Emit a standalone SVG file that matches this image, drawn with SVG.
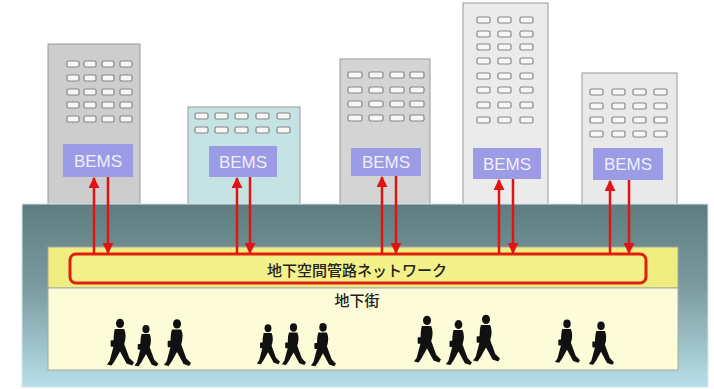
<svg xmlns="http://www.w3.org/2000/svg" xmlns:xlink="http://www.w3.org/1999/xlink" width="714" height="389" viewBox="0 0 714 389">
  <style>
    .bldg { stroke: #9a9a9a; stroke-width: 1; }
    .win { fill: #f7f7f7; stroke: #858585; stroke-width: 1.2; }
    .bems { fill: #9b9be6; }
    .bems-t { font-family: "Liberation Sans", Arial, sans-serif; font-size: 17px; fill: #f0f0fa; text-anchor: middle; }
    .jp { font-family: "Noto Sans CJK JP", "Noto Sans CJK SC", sans-serif; font-size: 15px; fill: #222; text-anchor: middle; font-weight: 500; }
    .link { stroke: #e01414; stroke-width: 2.5; fill: none; }
    .walker { fill: #111; }
  </style>
  <defs>
    <linearGradient id="groundGrad" x1="0" y1="0" x2="0" y2="1">
      <stop offset="0" stop-color="#5f7d80"/>
      <stop offset="0.45" stop-color="#7a9a9e"/>
      <stop offset="1" stop-color="#b8dfe8"/>
    </linearGradient>
    <marker id="tip" viewBox="0 0 10 10" refX="9" refY="5" markerWidth="11" markerHeight="11" orient="auto" markerUnits="userSpaceOnUse">
      <path d="M0,0 L10,5 L0,10 Z" fill="#e01414"/>
    </marker>
    <!-- walking figure, feet at y=50 -->
    <symbol id="walker" viewBox="0 0 30 52" overflow="visible">
      <ellipse cx="15" cy="5" rx="4.3" ry="5"/>
      <path d="M9.5,11 L19.5,11 Q22.5,18 19.5,27 L25,42 L30,47 L28,50 L22,48 L15,35 L9.5,45 L6,50 L1,49 L4,45 L8.5,28 Q7.5,18 9.5,11 Z"/>
      <path d="M11,12 L8,24 L10,25 L14,14 Z"/>
      <rect x="5" y="23" width="8" height="7" rx="1"/>
    </symbol>
  </defs>

  <rect x="0" y="0" width="714" height="389" fill="#ffffff"/>

  <!-- buildings -->
  <g id="building-1">
    <rect class="bldg" x="48" y="44" width="92" height="170" fill="#cdcdcd"/>
    <g class="win">
      <rect x="67" y="61" width="12" height="6" rx="1.5"/><rect x="84" y="61" width="12" height="6" rx="1.5"/><rect x="102" y="61" width="12" height="6" rx="1.5"/><rect x="120" y="61" width="12" height="6" rx="1.5"/>
      <rect x="67" y="75" width="12" height="6" rx="1.5"/><rect x="84" y="75" width="12" height="6" rx="1.5"/><rect x="102" y="75" width="12" height="6" rx="1.5"/><rect x="120" y="75" width="12" height="6" rx="1.5"/>
      <rect x="67" y="89" width="12" height="6" rx="1.5"/><rect x="84" y="89" width="12" height="6" rx="1.5"/><rect x="102" y="89" width="12" height="6" rx="1.5"/><rect x="120" y="89" width="12" height="6" rx="1.5"/>
      <rect x="67" y="102" width="12" height="6" rx="1.5"/><rect x="84" y="102" width="12" height="6" rx="1.5"/><rect x="102" y="102" width="12" height="6" rx="1.5"/><rect x="120" y="102" width="12" height="6" rx="1.5"/>
      <rect x="67" y="116" width="12" height="6" rx="1.5"/><rect x="84" y="116" width="12" height="6" rx="1.5"/><rect x="102" y="116" width="12" height="6" rx="1.5"/><rect x="120" y="116" width="12" height="6" rx="1.5"/>
    </g>
    <rect class="bems" x="63" y="144" width="70" height="33"/>
    <text class="bems-t" x="98" y="167">BEMS</text>
  </g>

  <g id="building-2">
    <rect class="bldg" x="188" y="107" width="112" height="107" fill="#c6e3e4"/>
    <g class="win">
      <rect x="195" y="113" width="13" height="6" rx="1.5"/><rect x="215" y="113" width="13" height="6" rx="1.5"/><rect x="235" y="113" width="13" height="6" rx="1.5"/><rect x="256" y="113" width="13" height="6" rx="1.5"/><rect x="277" y="113" width="13" height="6" rx="1.5"/>
      <rect x="195" y="127" width="13" height="6" rx="1.5"/><rect x="215" y="127" width="13" height="6" rx="1.5"/><rect x="235" y="127" width="13" height="6" rx="1.5"/><rect x="256" y="127" width="13" height="6" rx="1.5"/><rect x="277" y="127" width="13" height="6" rx="1.5"/>
    </g>
    <rect class="bems" x="209" y="146" width="68" height="31"/>
    <text class="bems-t" x="243" y="168">BEMS</text>
  </g>

  <g id="building-3">
    <rect class="bldg" x="340" y="59" width="90" height="155" fill="#d4d4d4"/>
    <g class="win">
      <rect x="348" y="72" width="14" height="6" rx="1.5"/><rect x="369" y="72" width="14" height="6" rx="1.5"/><rect x="390" y="72" width="14" height="6" rx="1.5"/><rect x="410" y="72" width="14" height="6" rx="1.5"/>
      <rect x="348" y="87" width="14" height="6" rx="1.5"/><rect x="369" y="87" width="14" height="6" rx="1.5"/><rect x="390" y="87" width="14" height="6" rx="1.5"/><rect x="410" y="87" width="14" height="6" rx="1.5"/>
      <rect x="348" y="101" width="14" height="6" rx="1.5"/><rect x="369" y="101" width="14" height="6" rx="1.5"/><rect x="390" y="101" width="14" height="6" rx="1.5"/><rect x="410" y="101" width="14" height="6" rx="1.5"/>
      <rect x="348" y="115" width="14" height="6" rx="1.5"/><rect x="369" y="115" width="14" height="6" rx="1.5"/><rect x="390" y="115" width="14" height="6" rx="1.5"/><rect x="410" y="115" width="14" height="6" rx="1.5"/>
    </g>
    <rect class="bems" x="351" y="148" width="70" height="28"/>
    <text class="bems-t" x="386" y="168">BEMS</text>
  </g>

  <g id="building-4">
    <rect class="bldg" x="463" y="3" width="85" height="211" fill="#ebebeb"/>
    <g class="win">
      <rect x="477" y="17" width="13" height="6" rx="1.5"/><rect x="498" y="17" width="13" height="6" rx="1.5"/><rect x="520" y="17" width="13" height="6" rx="1.5"/>
      <rect x="477" y="31" width="13" height="6" rx="1.5"/><rect x="498" y="31" width="13" height="6" rx="1.5"/><rect x="520" y="31" width="13" height="6" rx="1.5"/>
      <rect x="477" y="44" width="13" height="6" rx="1.5"/><rect x="498" y="44" width="13" height="6" rx="1.5"/><rect x="520" y="44" width="13" height="6" rx="1.5"/>
      <rect x="477" y="58" width="13" height="6" rx="1.5"/><rect x="498" y="58" width="13" height="6" rx="1.5"/><rect x="520" y="58" width="13" height="6" rx="1.5"/>
      <rect x="477" y="73" width="13" height="6" rx="1.5"/><rect x="498" y="73" width="13" height="6" rx="1.5"/><rect x="520" y="73" width="13" height="6" rx="1.5"/>
      <rect x="477" y="87" width="13" height="6" rx="1.5"/><rect x="498" y="87" width="13" height="6" rx="1.5"/><rect x="520" y="87" width="13" height="6" rx="1.5"/>
      <rect x="477" y="102" width="13" height="6" rx="1.5"/><rect x="498" y="102" width="13" height="6" rx="1.5"/><rect x="520" y="102" width="13" height="6" rx="1.5"/>
      <rect x="477" y="117" width="13" height="6" rx="1.5"/><rect x="498" y="117" width="13" height="6" rx="1.5"/><rect x="520" y="117" width="13" height="6" rx="1.5"/>
    </g>
    <rect class="bems" x="473" y="148" width="68" height="31"/>
    <text class="bems-t" x="507" y="170">BEMS</text>
  </g>

  <g id="building-5">
    <rect class="bldg" x="582" y="73" width="95" height="141" fill="#e9e9e9"/>
    <g class="win">
      <rect x="590" y="89" width="13" height="6" rx="1.5"/><rect x="612" y="89" width="13" height="6" rx="1.5"/><rect x="633" y="89" width="13" height="6" rx="1.5"/><rect x="654" y="89" width="13" height="6" rx="1.5"/>
      <rect x="590" y="103" width="13" height="6" rx="1.5"/><rect x="612" y="103" width="13" height="6" rx="1.5"/><rect x="633" y="103" width="13" height="6" rx="1.5"/><rect x="654" y="103" width="13" height="6" rx="1.5"/>
      <rect x="590" y="117" width="13" height="6" rx="1.5"/><rect x="612" y="117" width="13" height="6" rx="1.5"/><rect x="633" y="117" width="13" height="6" rx="1.5"/><rect x="654" y="117" width="13" height="6" rx="1.5"/>
      <rect x="590" y="131" width="13" height="6" rx="1.5"/><rect x="612" y="131" width="13" height="6" rx="1.5"/><rect x="633" y="131" width="13" height="6" rx="1.5"/><rect x="654" y="131" width="13" height="6" rx="1.5"/>
    </g>
    <rect class="bems" x="593" y="148" width="70" height="32"/>
    <text class="bems-t" x="628" y="170">BEMS</text>
  </g>

  <!-- underground cross-section -->
  <g id="ground">
    <rect x="22" y="204" width="686" height="183" fill="url(#groundGrad)" stroke="#d6e6ea" stroke-width="1"/>
  </g>

  <g id="underground-mall">
    <rect x="48" y="247" width="630" height="41" fill="#efec80" stroke="#a8a8a0" stroke-width="1"/>
    <rect x="48" y="288" width="630" height="82" fill="#fdfcd8" stroke="#a8a8a0" stroke-width="1"/>
    <text class="jp" x="357" y="306">地下街</text>
  </g>

  <g id="pipe-network">
    <rect x="70" y="254" width="576" height="29" rx="6" fill="#f4f08a" stroke="#e0200f" stroke-width="3"/>
    <text class="jp" x="357" y="276">地下空間管路ネットワーク</text>
  </g>

  <!-- links between each BEMS and the network -->
  <g id="connectors" class="link">
    <line x1="94" y1="254" x2="94" y2="178" marker-end="url(#tip)"/>
    <line x1="108" y1="177" x2="108" y2="253" marker-end="url(#tip)"/>
    <line x1="237" y1="254" x2="237" y2="178" marker-end="url(#tip)"/>
    <line x1="250" y1="177" x2="250" y2="253" marker-end="url(#tip)"/>
    <line x1="382" y1="254" x2="382" y2="177" marker-end="url(#tip)"/>
    <line x1="396" y1="176" x2="396" y2="253" marker-end="url(#tip)"/>
    <line x1="499" y1="254" x2="499" y2="180" marker-end="url(#tip)"/>
    <line x1="513" y1="179" x2="513" y2="253" marker-end="url(#tip)"/>
    <line x1="610" y1="254" x2="610" y2="181" marker-end="url(#tip)"/>
    <line x1="629" y1="180" x2="629" y2="253" marker-end="url(#tip)"/>
  </g>

  <!-- pedestrians -->
  <g id="pedestrians" class="walker">
    <use xlink:href="#walker" x="106" y="318" width="28" height="50"/>
    <use xlink:href="#walker" x="133" y="325" width="26" height="43"/>
    <use xlink:href="#walker" x="163" y="319" width="28" height="49"/>
    <use xlink:href="#walker" x="256" y="322" width="24" height="46"/>
    <use xlink:href="#walker" x="281" y="322" width="25" height="46"/>
    <use xlink:href="#walker" x="309" y="323" width="28" height="45"/>
    <use xlink:href="#walker" x="413" y="314" width="28" height="52"/>
    <use xlink:href="#walker" x="445" y="320" width="27" height="47"/>
    <use xlink:href="#walker" x="472" y="311" width="28" height="56"/>
    <use xlink:href="#walker" x="554" y="318" width="26" height="48"/>
    <use xlink:href="#walker" x="588" y="321" width="26" height="46"/>
  </g>
</svg>
